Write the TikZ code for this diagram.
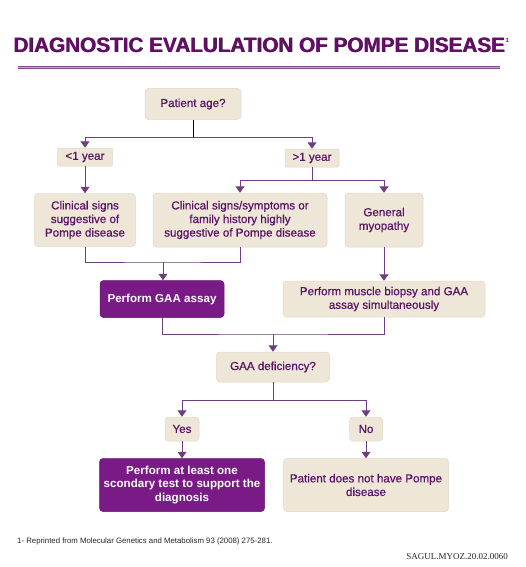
\documentclass[tikz,border=0pt]{standalone}
\usepackage{fontspec}
\setmainfont{Liberation Sans}
\newfontfamily\serifft{Liberation Serif}
\newfontfamily\medfont[RawFeature={embolden=0.7}]{Liberation Sans}
\usetikzlibrary{arrows.meta}
\definecolor{beige}{HTML}{EEE7D8}
\definecolor{beigeline}{HTML}{E2D8C4}
\definecolor{ptext}{HTML}{5A1566}
\definecolor{dpurple}{HTML}{7A1A86}
\definecolor{conncol}{HTML}{6E3F7C}
\definecolor{titlecol}{HTML}{6A0A6E}
\definecolor{ulight}{HTML}{C9A3D2}
\definecolor{udark}{HTML}{7E4B8C}
\tikzset{
  lbox/.style={rectangle, rounded corners=3.5pt, fill=beige, draw=beigeline, line width=0.5pt,
    text=ptext, font=\medfont\fontsize{11.6}{13.6}\selectfont, align=center, inner sep=1pt},
  dbox/.style={rectangle, rounded corners=3.5pt, fill=dpurple, draw=dpurple!80!black, line width=0.5pt,
    text=white, font=\bfseries\fontsize{11.6}{13.6}\selectfont, align=center, inner sep=1pt},
  conn/.style={draw=conncol, line width=1pt},
  arr/.style={conn, -{Triangle[width=9pt,length=6.5pt]}, color=conncol},
}
\begin{document}
\begin{tikzpicture}[x=1pt,y=-1pt]
\useasboundingbox (0,0) rectangle (525,567);
\fill[white] (0,0) rectangle (525,567);
% title
\node[text=black!85, font=\bfseries\fontsize{20.7}{24}\selectfont, inner sep=0] (titleshadow) at (259.7,45.7) {DIAGNOSTIC EVALULATION OF POMPE DISEASE};
\node[text=titlecol, font=\bfseries\fontsize{20.7}{24}\selectfont, inner sep=0] (title) at (259,45) {DIAGNOSTIC EVALULATION OF POMPE DISEASE};
\node[text=titlecol, font=\bfseries\fontsize{6}{7}\selectfont, inner sep=0, anchor=south west] (sup) at ([xshift=0.5pt,yshift=2pt]title.east) {1};
\draw[udark, line width=3.6pt] (18,67.5) -- (500,67.5);
\draw[ulight, line width=1.8pt] (18,67.5) -- (500,67.5);
% nodes
\node[lbox, minimum width=96pt, minimum height=31pt] (age) at (193,104) {Patient age?};
\node[lbox, minimum width=55pt, minimum height=18pt, rounded corners=1pt] (lt) at (85,157) {<1 year};
\node[lbox, minimum width=54pt, minimum height=18pt, rounded corners=1pt] (gt) at (312,158) {>1 year};
\node[lbox, minimum width=101pt, minimum height=53pt] (cs) at (85,220) {Clinical signs\\suggestive of\\Pompe disease};
\node[lbox, minimum width=174pt, minimum height=54pt] (fam) at (240,220) {Clinical signs/symptoms or\\family history highly\\suggestive of Pompe disease};
\node[lbox, minimum width=78pt, minimum height=54pt] (gm) at (384,220) {General\\myopathy};
\node[dbox, minimum width=124pt, minimum height=37pt] (gaa) at (162,299) {Perform GAA assay};
\node[lbox, minimum width=202pt, minimum height=36pt] (bio) at (384,299) {Perform muscle biopsy and GAA\\assay simultaneously};
\node[lbox, minimum width=113pt, minimum height=30pt] (def) at (273,367) {GAA deficiency?};
\node[lbox, minimum width=34pt, minimum height=24pt] (yes) at (182,429) {Yes};
\node[lbox, minimum width=33pt, minimum height=24pt] (no) at (366,429) {No};
\node[dbox, minimum width=165pt, minimum height=53pt] (sec) at (182,485) {Perform at least one\\scondary test to support the\\diagnosis};
\node[lbox, minimum width=165pt, minimum height=53pt] (not) at (366,485) {Patient does not have Pompe\\disease};
% connectors
\coordinate (j1) at (193,137);
\draw[black, line width=1pt] (age.south) -- (j1);
\draw[arr] (j1) -| (lt.north);
\draw[arr] (j1) -| (gt.north);
\draw[arr] (lt.south) -- (cs.north);
\coordinate (j2) at (312,180);
\draw[conn] (gt.south) -- (j2);
\draw[arr] (j2) -| (fam.north);
\draw[arr] (j2) -| (gm.north);
\coordinate (j3) at (163,262);
\draw[conn] (cs.south) |- (j3) -| (fam.south);
\draw[arr] (j3) -- (j3 |- gaa.north);
\draw[arr] (gm.south) -- (bio.north);
\coordinate (j4) at (273,334);
\draw[conn] (gaa.south) |- (j4) -| (bio.south);
\draw[arr] (j4) -- (def.north);
\coordinate (j5) at (273,400);
\draw[conn] (def.south) -- (j5);
\draw[arr] (j5) -| (yes.north);
\draw[arr] (j5) -| (no.north);
\draw[arr] (yes.south) -- (sec.north);
\draw[arr] (no.south) -- (not.north);
% footnotes
\node[anchor=west, font=\fontsize{7.8}{9}\selectfont, text=black!85, inner sep=0] (fn) at (17,541) {1- Reprinted from Molecular Genetics and Metabolism 93 (2008) 275-281.};
\node[anchor=east, font=\serifft\fontsize{9}{10}\selectfont, text=black!85, inner sep=0] (code) at (508,557) {SAGUL.MYOZ.20.02.0060};
\end{tikzpicture}
\end{document}
